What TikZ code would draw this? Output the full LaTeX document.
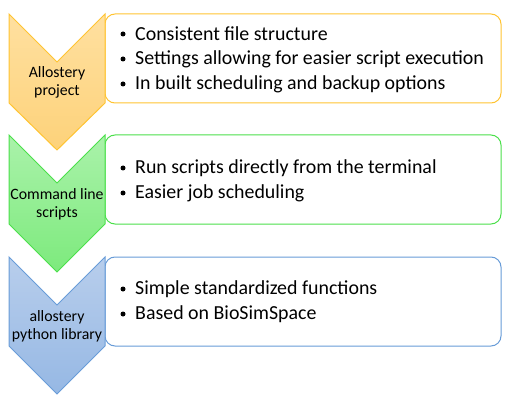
\documentclass[tikz,border=0pt]{standalone}
\usepackage{fontspec}
\setmainfont{Carlito}
\definecolor{oTop}{RGB}{255,224,160}
\definecolor{oBot}{RGB}{253,210,122}
\definecolor{oLine}{RGB}{255,196,50}
\definecolor{gTop}{RGB}{170,242,170}
\definecolor{gBot}{RGB}{125,234,125}
\definecolor{gLine}{RGB}{75,224,75}
\definecolor{bTop}{RGB}{184,206,236}
\definecolor{bBot}{RGB}{150,184,228}
\definecolor{bLine}{RGB}{104,156,216}
\tikzset{
  chev/.style={line width=1pt, line join=miter},
  infobox/.style={line width=1pt, rounded corners=10pt, fill=white},
  chevtext/.style={font=\fontsize{15.8}{18}\selectfont, align=center, inner sep=0pt},
  itemtext/.style={font=\fontsize{19.9}{25}\selectfont, anchor=west, inner sep=0pt},
  bullet/.style={circle, fill=black, inner sep=0pt, minimum size=5pt}
}
\begin{document}
\begin{tikzpicture}[x=1pt,y=-1pt]
\useasboundingbox (0,0) rectangle (517,401);
% ---- boxes
\draw[infobox, draw=oLine] (105,14) rectangle (501,103);
\draw[infobox, draw=gLine] (105,135) rectangle (501,224);
\draw[infobox, draw=bLine] (105,257) rectangle (501,346);
% ---- chevrons
\draw[chev, draw=oLine, top color=oTop, bottom color=oBot]
  (9,14) -- (57,62) -- (105,14) -- (105,103) -- (57,150) -- (9,103) -- cycle;
\draw[chev, draw=gLine, top color=gTop, bottom color=gBot]
  (9,135) -- (57,183) -- (105,135) -- (105,224) -- (57,272) -- (9,224) -- cycle;
\draw[chev, draw=bLine, top color=bTop, bottom color=bBot]
  (9,257) -- (57,305) -- (105,257) -- (105,346) -- (57,394) -- (9,346) -- cycle;
% ---- chevron labels
\node[chevtext] (c1) at (57,82) {Allostery\\project};
\node[chevtext] (c2) at (57,204) {Command line\\scripts};
\node[chevtext] (c3) at (57,326) {allostery\\python library};
% ---- items
\node[bullet] (b11) at (123,34) {};
\node[itemtext] (t11) at (135,34) {Consistent file structure};
\node[bullet] (b12) at (123,59) {};
\node[itemtext] (t12) at (135,59) {Settings allowing for easier script execution};
\node[bullet] (b13) at (123,84) {};
\node[itemtext] (t13) at (135,84) {In built scheduling and backup options};
\node[bullet] (b21) at (123,168) {};
\node[itemtext] (t21) at (135,168) {Run scripts directly from the terminal};
\node[bullet] (b22) at (123,193) {};
\node[itemtext] (t22) at (135,193) {Easier job scheduling};
\node[bullet] (b31) at (123,289) {};
\node[itemtext] (t31) at (135,289) {Simple standardized functions};
\node[bullet] (b32) at (123,314) {};
\node[itemtext] (t32) at (135,314) {Based on BioSimSpace};
\end{tikzpicture}
\end{document}
